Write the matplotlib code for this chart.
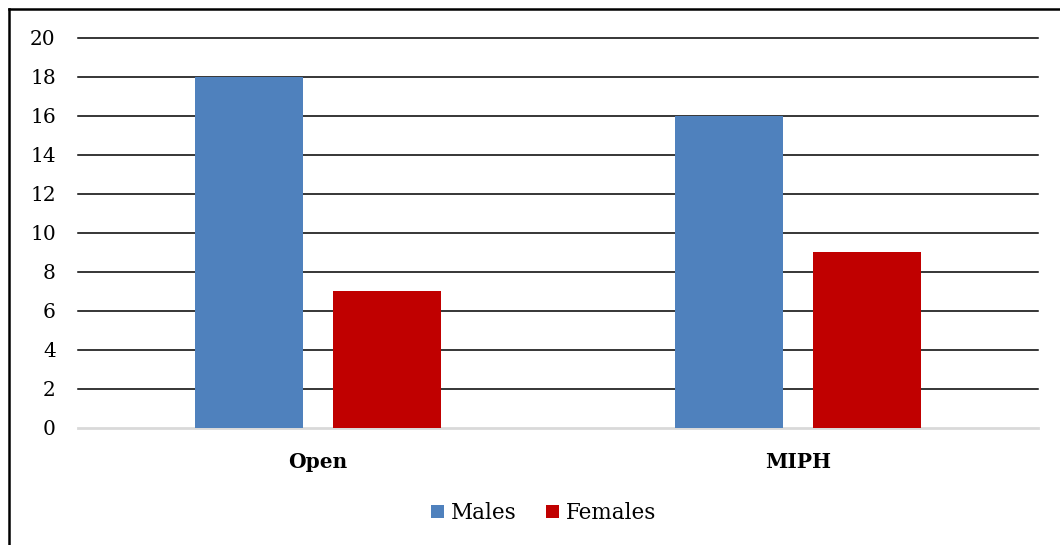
import matplotlib
matplotlib.use('Agg')
import matplotlib.pyplot as plt
from matplotlib.lines import Line2D
import numpy as np

categories = ["Open", "MIPH"]
males = [18, 16]
females = [7, 9]
yticks = [0, 2, 4, 6, 8, 10, 12, 14, 16, 18, 20]

plt.rcParams['font.family'] = ['DejaVu Serif']

fig = plt.figure(figsize=(10.6, 5.45), dpi=100)
ax = fig.add_axes([0.0736, 0.2147, 0.9057, 0.7156])

x = np.arange(len(categories))
w = 0.225
off = 0.143
ax.bar(x - off, males, w, color='#4F81BD', label='Males', zorder=3)
ax.bar(x + off, females, w, color='#C00000', label='Females', zorder=3)

ax.set_xlim(-0.5, 1.5)
ax.set_ylim(0, 20)
ax.set_yticks(yticks)
ax.set_yticklabels([str(t) for t in yticks], fontsize=14.5)
ax.set_xticks(x)
ax.set_xticklabels(categories, fontsize=14.5, fontweight='bold')
ax.tick_params(axis='both', length=0)
ax.tick_params(axis='y', pad=16)
ax.tick_params(axis='x', pad=17)

for t in yticks[1:]:
    ax.axhline(t, color='black', lw=1.1, zorder=1, clip_on=False)
ax.axhline(0, color='#D9D9D9', lw=2, zorder=2, clip_on=False)
for s in ax.spines.values():
    s.set_visible(False)

ax.legend(loc='upper center', bbox_to_anchor=(0.485, -0.14), ncol=2, frameon=False,
          fontsize=15.5, handlelength=0.6, handleheight=0.6, handletextpad=0.3,
          columnspacing=1.4)

# outer border (top and left only visible in crop)
fig.add_artist(Line2D([0.0085, 0.0085], [0, 0.9835], transform=fig.transFigure, color='black', lw=1.8))
fig.add_artist(Line2D([0.0085, 1.0], [0.9835, 0.9835], transform=fig.transFigure, color='black', lw=1.8))

fig.savefig('out.png', dpi=100)
